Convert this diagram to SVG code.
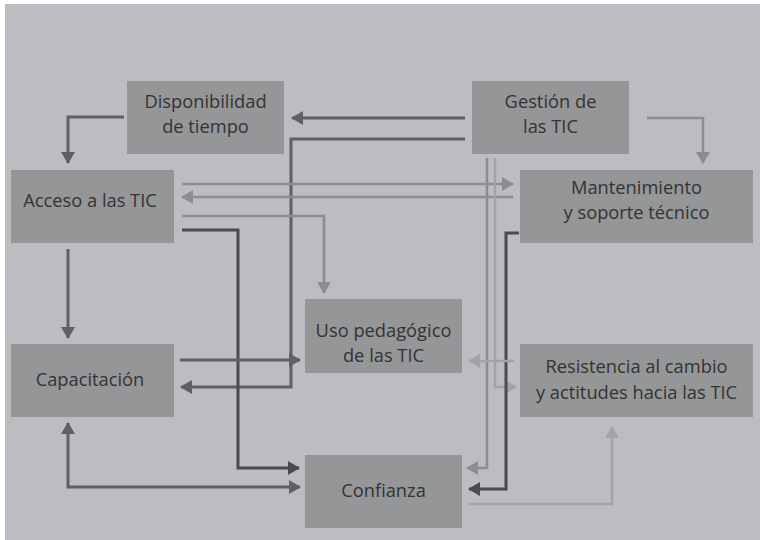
<svg xmlns="http://www.w3.org/2000/svg" width="760" height="540" viewBox="0 0 760 540">
<defs>
<style>
.box{fill:#959698}
.t{font-family:"Open Sans","Noto Sans","Liberation Sans",sans-serif;font-size:18.3px;fill:#333333;text-anchor:middle}
.c{fill:none;stroke-linejoin:miter}
.d{stroke:#606062;stroke-width:3}
.dd{stroke:#4b4b4d;stroke-width:3}
.l{stroke:#8c8d8f;stroke-width:2.5}
.ll{stroke:#a2a3a5;stroke-width:2.5}
</style>
<marker id="ad" viewBox="0 0 12 14" refX="11" refY="7" markerWidth="12" markerHeight="14" markerUnits="userSpaceOnUse" orient="auto-start-reverse"><path d="M0,0 L12,7 L0,14 z" fill="#606062"/></marker>
<marker id="add" viewBox="0 0 12 14" refX="11" refY="7" markerWidth="12" markerHeight="14" markerUnits="userSpaceOnUse" orient="auto-start-reverse"><path d="M0,0 L12,7 L0,14 z" fill="#4b4b4d"/></marker>
<marker id="al" viewBox="0 0 12 14" refX="11" refY="7" markerWidth="12" markerHeight="14" markerUnits="userSpaceOnUse" orient="auto-start-reverse"><path d="M0,0 L12,7 L0,14 z" fill="#8c8d8f"/></marker>
<marker id="all" viewBox="0 0 12 14" refX="11" refY="7" markerWidth="12" markerHeight="14" markerUnits="userSpaceOnUse" orient="auto-start-reverse"><path d="M0,0 L12,7 L0,14 z" fill="#a2a3a5"/></marker>
</defs>
<rect x="0" y="0" width="760" height="540" fill="#ffffff"/>
<rect x="5" y="4" width="755" height="536" fill="#bcbdc0"/>

<g id="connectors">
<path class="c d" d="M124,117 H68 V163" marker-end="url(#ad)"/>
<path class="c d" d="M465,118 H292" marker-end="url(#ad)"/>
<path class="c d" d="M465,139 H291 V387 H181" marker-end="url(#ad)"/>
<path class="c l" d="M182,184 H513" marker-end="url(#al)"/>
<path class="c l" d="M513,197 H182" marker-end="url(#al)"/>
<path class="c l" d="M182,216 H324 V293" marker-end="url(#al)"/>
<path class="c dd" d="M182,230 H238 V468 H299" marker-end="url(#add)"/>
<path class="c d" d="M68,249 V338" marker-end="url(#ad)"/>
<path class="c d" d="M180,360 H300" marker-end="url(#ad)"/>
<path class="c d" d="M68,423 V487 H300" marker-start="url(#ad)" marker-end="url(#ad)"/>
<path class="c l" d="M647,118 H703 V163" marker-end="url(#al)"/>
<path class="c l" d="M487,158 V468 H467" marker-end="url(#al)"/>
<path class="c ll" d="M495,158 V387 H516" marker-end="url(#all)"/>
<path class="c dd" d="M519,233 H506 V489 H469" marker-end="url(#add)"/>
<path class="c ll" d="M514,361 H469" marker-end="url(#all)"/>
<path class="c ll" d="M469,504 H612 V427" marker-end="url(#all)"/>
</g>

<g id="disponibilidad"><rect class="box" x="127" y="81" width="157" height="73"/><text class="t" x="205.5" y="108">Disponibilidad</text><text class="t" x="205.5" y="133">de tiempo</text></g>
<g id="gestion"><rect class="box" x="472" y="81" width="157" height="73"/><text class="t" x="550.5" y="108">Gestión de</text><text class="t" x="550.5" y="133">las TIC</text></g>
<g id="acceso"><rect class="box" x="11" y="170" width="163" height="73"/><text class="t" x="90" y="207">Acceso a las TIC</text></g>
<g id="mantenimiento"><rect class="box" x="520" y="170" width="233" height="73"/><text class="t" x="636.5" y="194">Mantenimiento</text><text class="t" x="636.5" y="219">y soporte técnico</text></g>
<g id="uso"><rect class="box" x="305" y="299" width="157" height="74"/><text class="t" x="383.5" y="337">Uso pedagógico</text><text class="t" x="383.5" y="362">de las TIC</text></g>
<g id="capacitacion"><rect class="box" x="11" y="344" width="163" height="73"/><text class="t" x="90" y="386">Capacitación</text></g>
<g id="resistencia"><rect class="box" x="520" y="344" width="233" height="73"/><text class="t" x="636.5" y="373">Resistencia al cambio</text><text class="t" x="636.5" y="399">y actitudes hacia las TIC</text></g>
<g id="confianza"><rect class="box" x="305" y="455" width="157" height="73"/><text class="t" x="383.5" y="497">Confianza</text></g>
</svg>
